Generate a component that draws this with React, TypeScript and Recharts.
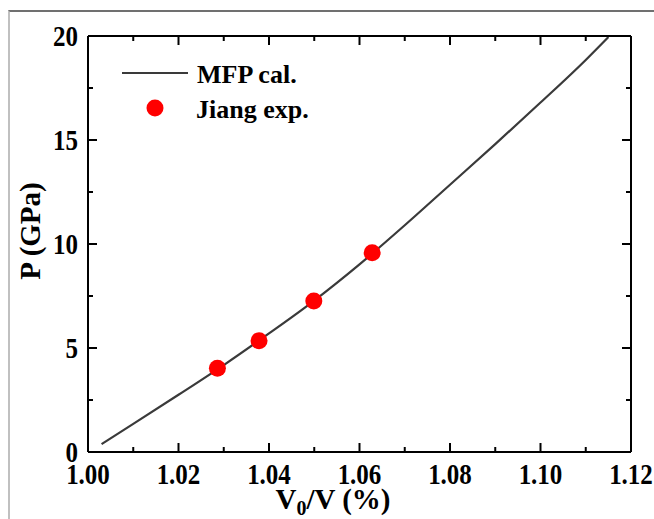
import React from 'react';
import { ComposedChart, Line, Scatter, XAxis, YAxis } from 'recharts';

// MFP calculated curve
const curveX = [1.003, 1.01, 1.02, 1.03, 1.04, 1.05, 1.06, 1.07, 1.08, 1.09, 1.1, 1.11, 1.115];
const curveP = [0.38, 1.35, 2.75, 4.18, 5.7, 7.28, 9.02, 10.9, 12.85, 14.8, 16.8, 18.85, 19.95];

// Jiang experimental points
const expX = [1.0286, 1.0378, 1.0499, 1.0628];
const expP = [4.03, 5.35, 7.26, 9.58];

const xTicks = [1.0, 1.01, 1.02, 1.03, 1.04, 1.05, 1.06, 1.07, 1.08, 1.09, 1.1, 1.11, 1.12];
const yTicks = [0, 2.5, 5, 7.5, 10, 12.5, 15, 17.5, 20];

const seriesNames = ['MFP cal.', 'Jiang exp.'];
const xTitle = ['V', '0', '/V (%)'];
const yTitle = 'P (GPa)';

const curveData = curveX.map((x, i) => ({ x, p: curveP[i] }));
const expData = expX.map((x, i) => ({ x, p: expP[i] }));

const FONT = "'Liberation Serif', 'Times New Roman', serif";
const MAJ = 9;
const MIN = 5;

const isMajorX = (v: number) => Math.round(v * 100) % 2 === 0;
const isMajorY = (v: number) => Math.round(v * 10) % 50 === 0;

const BottomTick = (props: any) => {
  const { x, y, payload } = props;
  const v = payload.value as number;
  const major = isMajorX(v);
  return (
    <g>
      <line x1={x} y1={y} x2={x} y2={y - (major ? MAJ : MIN)} stroke="#000" strokeWidth={2} />
      {major && (
        <text
          transform={`translate(${x},${y + 32}) scale(1,1.14)`}
          textAnchor="middle"
          style={{ fontFamily: FONT, fontWeight: 'bold', fontSize: 25 }}
          fill="#000"
        >
          {v.toFixed(2)}
        </text>
      )}
    </g>
  );
};

const TopTick = (props: any) => {
  const { x, y, payload } = props;
  const major = isMajorX(payload.value);
  return <line x1={x} y1={y} x2={x} y2={y + (major ? MAJ : MIN)} stroke="#000" strokeWidth={2} />;
};

const LeftTick = (props: any) => {
  const { x, y, payload } = props;
  const v = payload.value as number;
  const major = isMajorY(v);
  return (
    <g>
      <line x1={x} y1={y} x2={x + (major ? MAJ : MIN)} y2={y} stroke="#000" strokeWidth={2} />
      {major && (
        <text
          transform={`translate(${x - 10},${y + 10}) scale(1,1.16)`}
          textAnchor="end"
          style={{ fontFamily: FONT, fontWeight: 'bold', fontSize: 25 }}
          fill="#000"
        >
          {String(v)}
        </text>
      )}
    </g>
  );
};

const RightTick = (props: any) => {
  const { x, y, payload } = props;
  const major = isMajorY(payload.value);
  return <line x1={x} y1={y} x2={x - (major ? MAJ : MIN)} y2={y} stroke="#000" strokeWidth={2} />;
};

const axisLine = { stroke: '#000', strokeWidth: 2 };

export default function App() {
  return (
    <div
      style={{
        position: 'absolute',
        left: 0,
        top: 0,
        width: 654,
        height: 519,
        overflow: 'hidden',
        background: '#fff',
      }}
    >
      <div
        style={{
          position: 'absolute',
          left: 8,
          top: 10,
          width: 700,
          height: 600,
          borderTop: '2px solid #707070',
          borderLeft: '2px solid #c0c0c0',
        }}
      />
      <div style={{ position: 'absolute', left: 0, top: 0 }}>
        <ComposedChart
          width={654}
          height={519}
          margin={{ top: 35, right: 22, bottom: 66, left: 87 }}
        >
          <XAxis
            xAxisId={0}
            dataKey="x"
            type="number"
            domain={[1.0, 1.12]}
            allowDataOverflow
            ticks={xTicks}
            interval={0}
            height={1}
            axisLine={axisLine}
            tickLine={false}
            tickSize={0}
            tickMargin={0}
            tick={<BottomTick />}
          />
          <XAxis
            xAxisId="top"
            orientation="top"
            dataKey="x"
            type="number"
            domain={[1.0, 1.12]}
            allowDataOverflow
            ticks={xTicks}
            interval={0}
            height={1}
            axisLine={axisLine}
            tickLine={false}
            tickSize={0}
            tickMargin={0}
            tick={<TopTick />}
          />
          <YAxis
            yAxisId={0}
            type="number"
            domain={[0, 20]}
            allowDataOverflow
            ticks={yTicks}
            interval={0}
            width={1}
            axisLine={axisLine}
            tickLine={false}
            tickSize={0}
            tickMargin={0}
            tick={<LeftTick />}
          />
          <YAxis
            yAxisId="right"
            orientation="right"
            type="number"
            domain={[0, 20]}
            allowDataOverflow
            ticks={yTicks}
            interval={0}
            width={1}
            axisLine={axisLine}
            tickLine={false}
            tickSize={0}
            tickMargin={0}
            tick={<RightTick />}
          />
          <Line
            data={curveData}
            dataKey="p"
            name={seriesNames[0]}
            type="monotone"
            stroke="#3a3a3a"
            strokeWidth={2.2}
            dot={false}
            activeDot={false}
            isAnimationActive={false}
          />
          <Scatter
            data={expData}
            dataKey="p"
            name={seriesNames[1]}
            fill="#ff0000"
            isAnimationActive={false}
            shape={(p: any) => <circle cx={p.cx} cy={p.cy} r={8.5} fill="#ff0000" />}
          />
          <g>
            <line x1={122} y1={73} x2={188} y2={73} stroke="#3a3a3a" strokeWidth={2.2} />
            <text x={197} y={83} style={{ fontFamily: FONT, fontWeight: 'bold', fontSize: 26 }} fill="#000">
              {seriesNames[0]}
            </text>
            <circle cx={155} cy={108} r={8.5} fill="#ff0000" />
            <text x={196} y={118} style={{ fontFamily: FONT, fontWeight: 'bold', fontSize: 26 }} fill="#000">
              {seriesNames[1]}
            </text>
          </g>
          <text
            x={333}
            y={509}
            textAnchor="middle"
            style={{ fontFamily: FONT, fontWeight: 'bold', fontSize: 29 }}
            fill="#000"
          >
            {xTitle[0]}
            <tspan style={{ fontSize: 20 }} dy={6}>
              {xTitle[1]}
            </tspan>
            <tspan dy={-6}>{xTitle[2]}</tspan>
          </text>
          <text
            transform="translate(40,231) rotate(-90)"
            textAnchor="middle"
            style={{ fontFamily: FONT, fontWeight: 'bold', fontSize: 29 }}
            fill="#000"
          >
            {yTitle}
          </text>
        </ComposedChart>
      </div>
    </div>
  );
}
